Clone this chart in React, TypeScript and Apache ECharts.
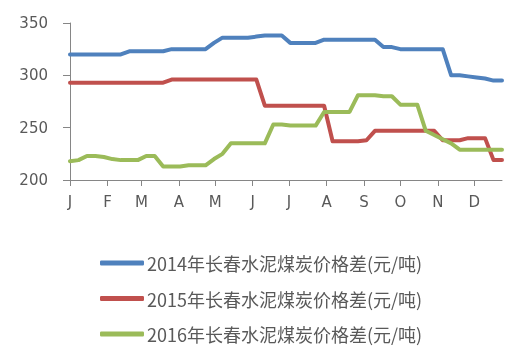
import React, { useEffect, useRef } from "react";
import * as echarts from "echarts";

const monthLabels = ["J", "F", "M", "A", "M", "J", "J", "A", "S", "O", "N", "D"];
const monthStartDays = [0, 31, 59, 90, 120, 151, 181, 212, 243, 273, 304, 334];
const daysPerWeek = 7;

const seriesNames = [
  "2014年长春水泥煤炭价格差(元/吨)",
  "2015年长春水泥煤炭价格差(元/吨)",
  "2016年长春水泥煤炭价格差(元/吨)",
];

const values2014 = [
  320, 320, 320, 320, 320, 320, 320,
  323, 323, 323, 323, 323,
  325, 325, 325, 325, 325,
  331,
  336, 336, 336, 336,
  337,
  338, 338, 338,
  331, 331, 331, 331,
  334, 334, 334, 334, 334, 334, 334,
  327, 327,
  325, 325, 325, 325, 325, 325,
  300, 300, 299, 298, 297, 295, 295,
];

const values2015 = [
  293, 293, 293, 293, 293, 293, 293, 293, 293, 293, 293, 293,
  296, 296, 296, 296, 296, 296, 296, 296, 296, 296, 296,
  271, 271, 271, 271, 271, 271, 271, 271,
  237, 237, 237, 237, 238,
  247, 247, 247, 247, 247, 247, 247, 247,
  238, 238, 238,
  240, 240, 240,
  219, 219,
];

const values2016 = [
  218, 219, 223, 223, 222, 220, 219, 219, 219, 223,
  223, 213, 213, 213, 214, 214, 214, 220, 225, 235,
  235, 235, 235, 235, 253, 253, 252, 252, 252, 252,
  265, 265, 265, 265, 281, 281, 281, 280, 280, 272,
  272, 272, 247, 243, 239, 235, 229, 229, 229, 229,
  229, 229,
];

const colors = ["#4F81BD", "#C0504D", "#9BBB59"];
const yTicks = { min: 200, max: 350, interval: 50 };

const toPoints = (vals: number[]) => vals.map((v, i) => [i * daysPerWeek, v]);

export default function App() {
  const ref = useRef<HTMLDivElement>(null);
  useEffect(() => {
    if (!ref.current) return;
    const chart = echarts.init(ref.current, undefined, { renderer: "svg" });
    const allVals = [values2014, values2015, values2016];
    const lastDay = (values2014.length - 1) * daysPerWeek;
    chart.setOption({
      animation: false,
      textStyle: { fontFamily: "DejaVu Sans" },
      grid: { left: 70, right: 21, top: 23, bottom: 173, containLabel: false },
      xAxis: {
        type: "value",
        min: 0,
        max: lastDay,
        axisLine: { show: true, lineStyle: { color: "#868686", width: 1 } },
        axisTick: {
          show: true,
          length: 6,
          customValues: monthStartDays,
          lineStyle: { color: "#868686" },
        },
        axisLabel: {
          customValues: monthStartDays,
          formatter: (v: number) => monthLabels[monthStartDays.indexOf(v)] ?? "",
          color: "#595959",
          fontSize: 15,
          fontFamily: "DejaVu Sans",
          margin: 14,
        },
        splitLine: { show: false },
      },
      yAxis: {
        type: "value",
        min: yTicks.min,
        max: yTicks.max,
        interval: yTicks.interval,
        axisLine: { show: true, lineStyle: { color: "#868686", width: 1 } },
        axisTick: { show: true, length: 7, lineStyle: { color: "#868686" } },
        axisLabel: {
          color: "#595959",
          fontSize: 15,
          fontFamily: "DejaVu Sans",
          margin: 22,
        },
        splitLine: { show: false },
      },
      legend: {
        orient: "vertical",
        left: 100,
        top: 253,
        padding: 0,
        itemWidth: 44,
        itemHeight: 5,
        itemGap: 15.5,
        icon: "roundRect",
        textStyle: {
          color: "#595959",
          fontSize: 18,
          lineHeight: 20,
          fontFamily: "Noto Sans CJK SC",
          padding: [0, 0, 0, -2],
        },
        data: seriesNames,
      },
      series: seriesNames.map((name, idx) => ({
        name,
        type: "line",
        data: toPoints(allVals[idx]),
        showSymbol: false,
        symbol: "none",
        itemStyle: { color: colors[idx] },
        lineStyle: { color: colors[idx], width: 4, join: "round", cap: "round" },
      })),
    });
    return () => chart.dispose();
  }, []);
  return (
    <div
      ref={ref}
      style={{ position: "fixed", left: 0, top: 0, width: 523, height: 353 }}
    />
  );
}
